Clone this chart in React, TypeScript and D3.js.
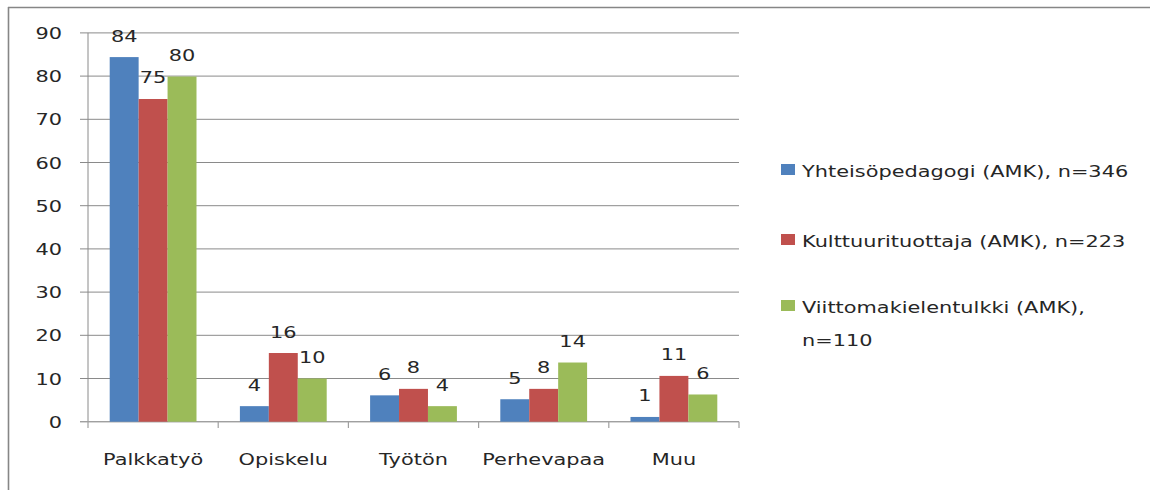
import React from "react";
import * as d3 from "d3";

const categories = ["Palkkatyö", "Opiskelu", "Työtön", "Perhevapaa", "Muu"];
const seriesNames = [
  ["Yhteisöpedagogi (AMK), n=346"],
  ["Kulttuurituottaja (AMK), n=223"],
  ["Viittomakielentulkki (AMK),", "n=110"],
];
const yhteisopedagogi = [84.4, 3.6, 6.1, 5.2, 1.1];
const kulttuurituottaja = [74.7, 15.9, 7.6, 7.6, 10.6];
const viittomakielentulkki = [79.9, 10.0, 3.6, 13.7, 6.3];
const yTicks = [0, 10, 20, 30, 40, 50, 60, 70, 80, 90];
const colors = ["#4F81BD", "#C0504D", "#9BBB59"];

const SX = 1.28;
const FONT = "DejaVu Sans, Verdana, sans-serif";
const FS = 16.3;
const TXT = "#262626";
const GRID = "#8A8A8A";

function T({ x, y, anchor = "start", children }: any) {
  return (
    <text
      transform={`translate(${x},${y}) scale(${SX},1)`}
      textAnchor={anchor}
      fontFamily={FONT}
      fontSize={FS}
      fill={TXT}
    >
      {children}
    </text>
  );
}

export default function App() {
  const series = [yhteisopedagogi, kulttuurituottaja, viittomakielentulkki];
  const left = 88, right = 739, top = 32.9, bottom = 421.7;
  const x = d3.scaleBand<string>().domain(categories).range([left, right]).paddingInner(0).paddingOuter(0);
  const y = d3.scaleLinear().domain([0, 90]).range([bottom, top]);
  const bw = x.bandwidth();
  const barW = bw / (3 + 1.5);
  const gap = (bw - 3 * barW) / 2;

  const legendY = [169.5, 239.5, 305.5];

  return (
    <svg
      width={1150}
      height={490}
      style={{ position: "absolute", left: 0, top: 0, background: "#fff" }}
    >
      <rect x={0} y={0} width={1150} height={490} fill="#fff" />
      {/* outer frame */}
      <line x1={8} x2={1150} y1={7.5} y2={7.5} stroke="#868686" strokeWidth={1.6} />
      <line x1={8.5} x2={8.5} y1={7} y2={490} stroke="#868686" strokeWidth={1.6} />

      {/* grid lines + y ticks */}
      {yTicks.map((t) => (
        <g key={t}>
          <line x1={80} x2={right} y1={y(t)} y2={y(t)} stroke={GRID} strokeWidth={1} />
          <T x={62} y={y(t) + 6} anchor="end">{t}</T>
        </g>
      ))}
      {/* y axis */}
      <line x1={left} x2={left} y1={top} y2={bottom} stroke={GRID} strokeWidth={1} />
      {/* x axis */}
      <line x1={80} x2={right} y1={bottom} y2={bottom} stroke="#A0A0A0" strokeWidth={1.3} />
      {[...categories.map((c) => x(c) as number), right].map((tx, i) => (
        <line key={i} x1={tx} x2={tx} y1={bottom} y2={428} stroke="#A0A0A0" strokeWidth={1.2} />
      ))}

      {/* bars */}
      {categories.map((c, ci) => (
        <g key={c}>
          {series.map((s, si) => {
            const bx = (x(c) as number) + gap + si * barW;
            const v = s[ci];
            return (
              <g key={si}>
                <rect x={bx} y={y(v)} width={barW} height={bottom - y(v)} fill={colors[si]} />
                <T x={bx + barW / 2} y={y(v) - 15.5} anchor="middle">{Math.round(v)}</T>
              </g>
            );
          })}
          <T x={(x(c) as number) + bw / 2} y={465} anchor="middle">{c}</T>
        </g>
      ))}

      {/* legend */}
      {seriesNames.map((lines, i) => (
        <g key={i}>
          <rect x={781} y={legendY[i] - 5.5} width={14} height={11} fill={colors[i]} />
          {lines.map((ln, li) => (
            <T key={li} x={802} y={legendY[i] + 7 + li * 33}>{ln}</T>
          ))}
        </g>
      ))}
    </svg>
  );
}
